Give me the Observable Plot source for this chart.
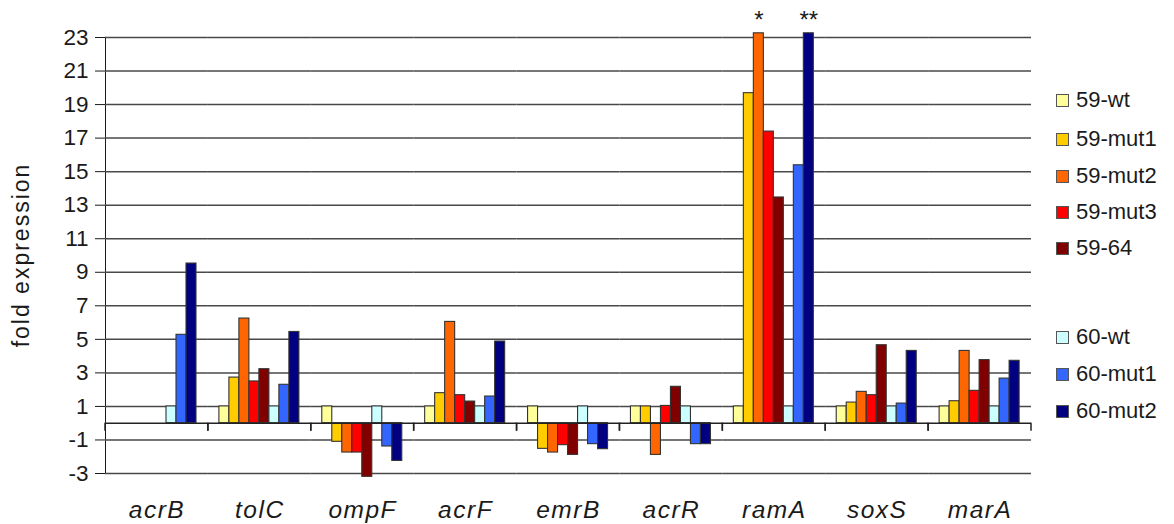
<!DOCTYPE html>
<html>
<head>
<meta charset="utf-8">
<script src="https://cdn.jsdelivr.net/npm/d3@7"></script>
<script src="https://cdn.jsdelivr.net/npm/@observablehq/plot@0.6"></script>
<style>
  html, body { margin: 0; padding: 0; background: #fff; }
  #wrap { position: relative; width: 1174px; height: 524px; font-family: "Liberation Sans", Arial, sans-serif; color: #1a1a1a; }
  #wrap svg [aria-label^="fx-axis"] text { font-style: italic; font-size: 24.5px; letter-spacing: 1.5px; fill: #1a1a1a; }
  #wrap svg [aria-label^="y-axis"] text { font-size: 22.5px; fill: #1a1a1a; }
  #ylabel { position: absolute; left: 21px; top: 255px; transform: translate(-50%, -50%) rotate(-90deg); font-size: 23px; letter-spacing: 2px; white-space: nowrap; }
  .leg { position: absolute; left: 1056px; display: flex; align-items: center; font-size: 22px; white-space: nowrap; transform: translateY(-50%); }
  .leg .sw { width: 11px; height: 11px; border: 1px solid #555; margin-right: 7px; }
</style>
</head>
<body>
<div id="wrap"></div>
<script>
// ---- data ----
const genes = ["acrB", "tolC", "ompF", "acrF", "emrB", "acrR", "ramA", "soxS", "marA"];
const series = ["59-wt", "59-mut1", "59-mut2", "59-mut3", "59-64", "60-wt", "60-mut1", "60-mut2"];
const seriesColors = ["#FFFF99", "#FFCC00", "#FF6600", "#FF0000", "#800000", "#CCFFFF", "#3366FF", "#000080"];

const v59wt   = [null, 1, 1, 1, 1, 1, 1, 1, 1];
const v59mut1 = [null, 2.72, -1.11, 1.79, -1.53, 1.0, 19.68, 1.23, 1.31];
const v59mut2 = [null, 6.24, -1.75, 6.04, -1.75, -1.89, 23.25, 1.87, 4.31];
const v59mut3 = [null, 2.49, -1.75, 1.67, -1.31, 1.03, 17.39, 1.67, 1.93];
const v5964   = [null, 3.22, -3.2, 1.29, -1.89, 2.17, 13.46, 4.65, 3.76];
const v60wt   = [1, 1, 1, 1, 1, 1, 1, 1, 1];
const v60mut1 = [5.27, 2.29, -1.39, 1.59, -1.25, -1.25, 15.38, 1.17, 2.66];
const v60mut2 = [9.52, 5.44, -2.25, 4.87, -1.55, -1.25, 23.25, 4.31, 3.72];

const yTicks = [-3, -1, 1, 3, 5, 7, 9, 11, 13, 15, 17, 19, 21, 23];
const stars = [
  {gene: "ramA", series: "59-mut2", mark: "*"},
  {gene: "ramA", series: "60-mut2", mark: "**"}
];
const yLabel = "fold expression";

// ---- build table ----
const valueArrays = [v59wt, v59mut1, v59mut2, v59mut3, v5964, v60wt, v60mut1, v60mut2];
const rows = [];
genes.forEach((g, gi) => {
  series.forEach((s, si) => {
    const st = stars.find(d => d.gene === g && d.series === s);
    rows.push({gene: g, series: s, value: valueArrays[si][gi], star: st ? st.mark : ""});
  });
});

// category boundary ticks below the baseline, taken from each facet's x scale range
function boundaryTicks(index, scales) {
  const ns = "http://www.w3.org/2000/svg";
  const g = document.createElementNS(ns, "g");
  const y0 = scales.y(0);
  const [r0, r1] = scales.x.range();
  for (const x of [r0, r1]) {
    const l = document.createElementNS(ns, "line");
    l.setAttribute("x1", x); l.setAttribute("x2", x);
    l.setAttribute("y1", y0); l.setAttribute("y2", y0 + 8);
    l.setAttribute("stroke", "#222"); l.setAttribute("stroke-width", 1.5);
    g.appendChild(l);
  }
  return g;
}

const plot = Plot.plot({
  width: 1174,
  height: 524,
  marginLeft: 105,
  marginRight: 143,
  marginTop: 37,
  marginBottom: 51,
  style: {fontFamily: "Liberation Sans, Arial, sans-serif", background: "transparent"},
  facet: {data: rows, x: "gene"},
  fx: {domain: genes, padding: 0, round: false, axis: "bottom", tickSize: 0, tickPadding: 27, label: null},
  x: {domain: series, paddingInner: 0, paddingOuter: 0.8, axis: null},
  y: {domain: [-3, 23], ticks: yTicks, tickSize: 10, tickPadding: 7, tickFormat: d => String(d), label: null, line: true},
  color: {domain: series, range: seriesColors},
  marks: [
    Plot.ruleY(yTicks, {stroke: "#484848", strokeWidth: 1.5}),
    Plot.barY(rows, {filter: d => d.value != null, x: "series", y: "value", fill: "series", stroke: "#333", strokeWidth: 1.1}),
    Plot.ruleY([0], {stroke: "#222", strokeWidth: 1.5}),
    boundaryTicks,
    Plot.text(rows, {filter: d => d.star, x: "series", y: "value", text: "star", dy: -13, fontSize: 24, fill: "#1a1a1a"})
  ]
});

const wrap = document.getElementById("wrap");
wrap.appendChild(plot);

const yl = document.createElement("div");
yl.id = "ylabel";
yl.textContent = yLabel;
wrap.appendChild(yl);

const legendTops = [100, 139, 176, 212, 248, 337, 374, 411];
series.forEach((s, i) => {
  const item = document.createElement("div");
  item.className = "leg";
  item.style.top = legendTops[i] + "px";
  const sw = document.createElement("div");
  sw.className = "sw";
  sw.style.background = seriesColors[i];
  const t = document.createElement("span");
  t.textContent = s;
  item.appendChild(sw);
  item.appendChild(t);
  wrap.appendChild(item);
});
</script>
</body>
</html>
